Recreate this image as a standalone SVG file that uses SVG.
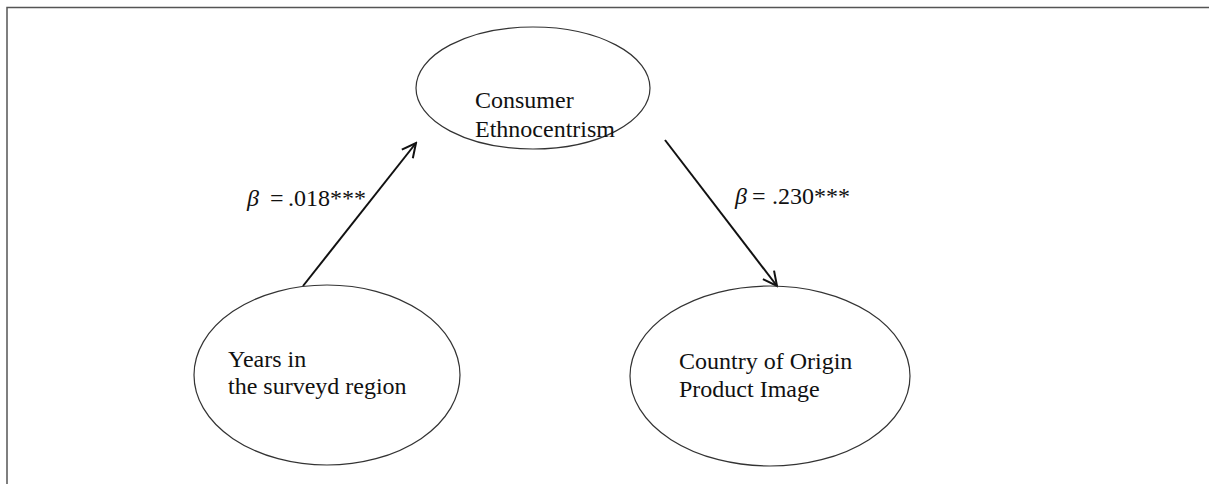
<svg xmlns="http://www.w3.org/2000/svg" width="1209" height="484" viewBox="0 0 1209 484">
<style>
.node{fill:none;stroke:#333;stroke-width:1.2}
.lbl{font-family:"Liberation Serif","Times New Roman",serif;font-size:24px;fill:#111}
.edge{stroke:#111;stroke-width:2;fill:none}
.frame{fill:none;stroke:#555;stroke-width:1.5}
</style>
<defs>
<marker id="arr" viewBox="0 0 20 20" refX="18" refY="10" markerWidth="20" markerHeight="20" markerUnits="userSpaceOnUse" orient="auto">
<path d="M4,3 L18,10 L4,17" fill="none" stroke="#111" stroke-width="2"/>
</marker>
</defs>
<rect width="1209" height="484" fill="#fff"/>
<path class="frame" d="M7,484 V7.5 H1209"/>
<g id="connectors">
<line class="edge" x1="303" y1="286" x2="416" y2="143" marker-end="url(#arr)"/>
<line class="edge" x1="665" y1="140" x2="777" y2="286" marker-end="url(#arr)"/>
<text class="lbl"><tspan x="247" y="206" font-style="italic">β</tspan><tspan x="270" y="206">=</tspan><tspan x="288" y="206">.018***</tspan></text>
<text class="lbl"><tspan x="735" y="204" font-style="italic">β</tspan><tspan x="752" y="204">=</tspan><tspan x="772" y="204">.230***</tspan></text>
</g>
<g id="consumer-ethnocentrism">
<ellipse class="node" cx="533" cy="88" rx="117" ry="61"/>
<text class="lbl"><tspan x="475" y="108">Consumer</tspan><tspan x="475" y="137">Ethnocentrism</tspan></text>
</g>
<g id="years-in-region">
<ellipse class="node" cx="327" cy="375" rx="133" ry="90"/>
<text class="lbl"><tspan x="228" y="367">Years in</tspan><tspan x="228" y="394">the surveyd region</tspan></text>
</g>
<g id="coo-product-image">
<ellipse class="node" cx="770" cy="376" rx="140" ry="90"/>
<text class="lbl"><tspan x="679" y="369">Country of Origin</tspan><tspan x="679" y="397">Product Image</tspan></text>
</g>
</svg>
